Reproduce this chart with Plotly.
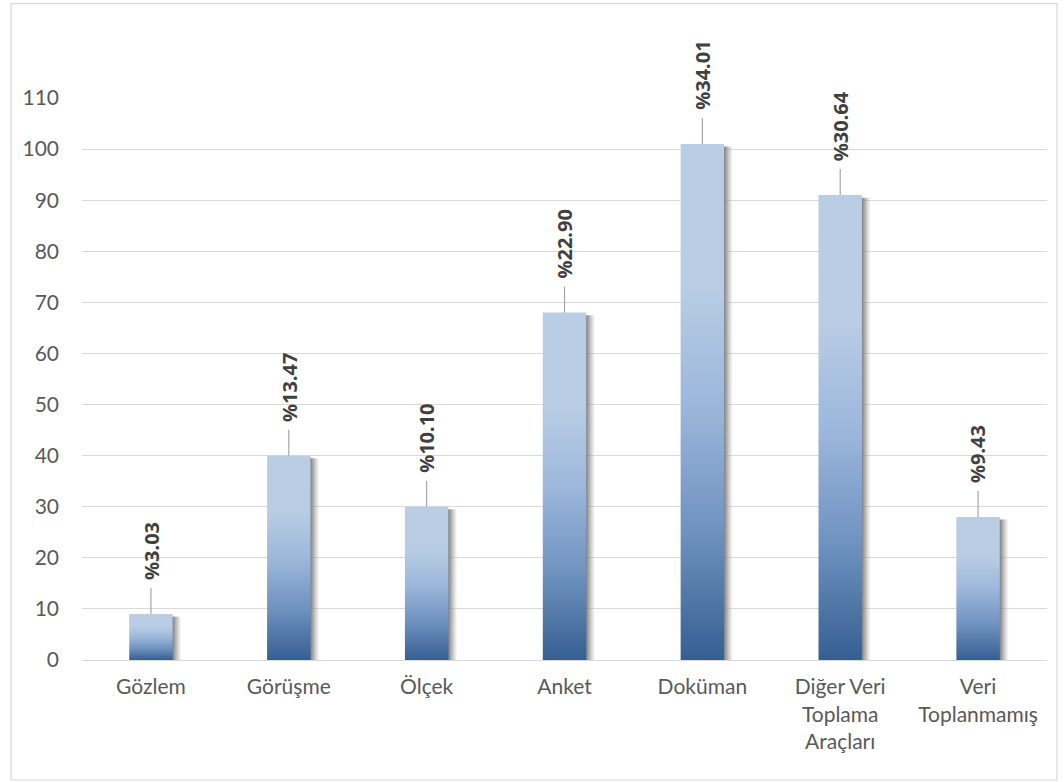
import plotly.graph_objects as go

categories = ["Gözlem", "Görüşme", "Ölçek", "Anket", "Doküman",
              "Diğer Veri<br>Toplama<br>Araçları", "Veri<br>Toplanmamış"]
values = [9, 40, 30, 68, 101, 91, 28]
pct_labels = ["%3.03", "%13.47", "%10.10", "%22.90", "%34.01", "%30.64", "%9.43"]
y_ticks = list(range(0, 111, 10))

FONT = "Lato"
TICK_COLOR = "#595959"
GRID = "#d9d9d9"
BAR_W = 0.315
SHADOW_W = 0.07

grad = [[0.0, "#365f91"], [0.25, "#6f92c0"], [0.5, "#9db8dc"], [0.72, "#b8cce4"], [1.0, "#b9cde5"]]

fig = go.Figure()

for i, v in enumerate(values):
    # drop shadow
    x0 = i + BAR_W / 2 - 0.005
    fig.add_trace(go.Scatter(
        x=[x0, x0 + SHADOW_W, x0 + SHADOW_W, x0, x0],
        y=[0, 0, v - 0.5, v - 0.5, 0],
        mode="lines", line=dict(width=0), fill="toself",
        fillgradient=dict(type="horizontal",
                          colorscale=[[0, "rgba(100,100,100,0.9)"], [0.45, "rgba(140,140,140,0.6)"],
                                      [0.8, "rgba(180,180,180,0.3)"], [1, "rgba(220,220,220,0.05)"]]),
        hoverinfo="skip", showlegend=False))
    # bar body
    xl, xr = i - BAR_W / 2, i + BAR_W / 2
    fig.add_trace(go.Scatter(
        x=[xl, xr, xr, xl, xl], y=[0, 0, v, v, 0],
        mode="lines", line=dict(width=0), fill="toself",
        fillgradient=dict(type="vertical", colorscale=grad),
        hoverinfo="skip", showlegend=False, name=categories[i]))

shapes = []
annotations = []
for i, (v, lab) in enumerate(zip(values, pct_labels)):
    shapes.append(dict(type="line", xref="x", yref="y", ysizemode="pixel", yanchor=v,
                       x0=i, x1=i, y0=0, y1=26, line=dict(color="#a6a6a6", width=1.2)))
    annotations.append(dict(x=i, y=v, xref="x", yref="y", text="<b>" + lab + "</b>",
                            showarrow=False, textangle=-90, xanchor="center", yanchor="bottom",
                            yshift=32, font=dict(family="Noto Sans", size=20, color="#404040", weight="bold")))

# chart border
shapes.append(dict(type="rect", xref="paper", yref="paper", x0=-0.0735, x1=1.0103, y0=-0.2135, y1=1.168,
                   line=dict(color=GRID, width=1.2), layer="below"))

fig.update_layout(
    width=1064, height=782,
    margin=dict(l=82, r=17, t=98, b=122),
    paper_bgcolor="white", plot_bgcolor="white",
    font=dict(family=FONT, size=21, color=TICK_COLOR),
    shapes=shapes, annotations=annotations,
    xaxis=dict(range=[-0.5, 6.5], tickvals=list(range(len(categories))), ticktext=categories,
               showgrid=False, zeroline=False, showline=True, linecolor=GRID, linewidth=1,
               ticks="", ticklabelstandoff=8,
               tickfont=dict(family=FONT, size=21, color=TICK_COLOR), fixedrange=True),
    yaxis=dict(range=[0, 110], tickvals=y_ticks, showgrid=True, gridcolor=GRID, gridwidth=1,
               zeroline=False, showline=False, ticks="", ticklabelstandoff=22,
               tickfont=dict(family=FONT, size=21, color=TICK_COLOR), fixedrange=True),
    showlegend=False,
)

fig.write_html("out.html")
